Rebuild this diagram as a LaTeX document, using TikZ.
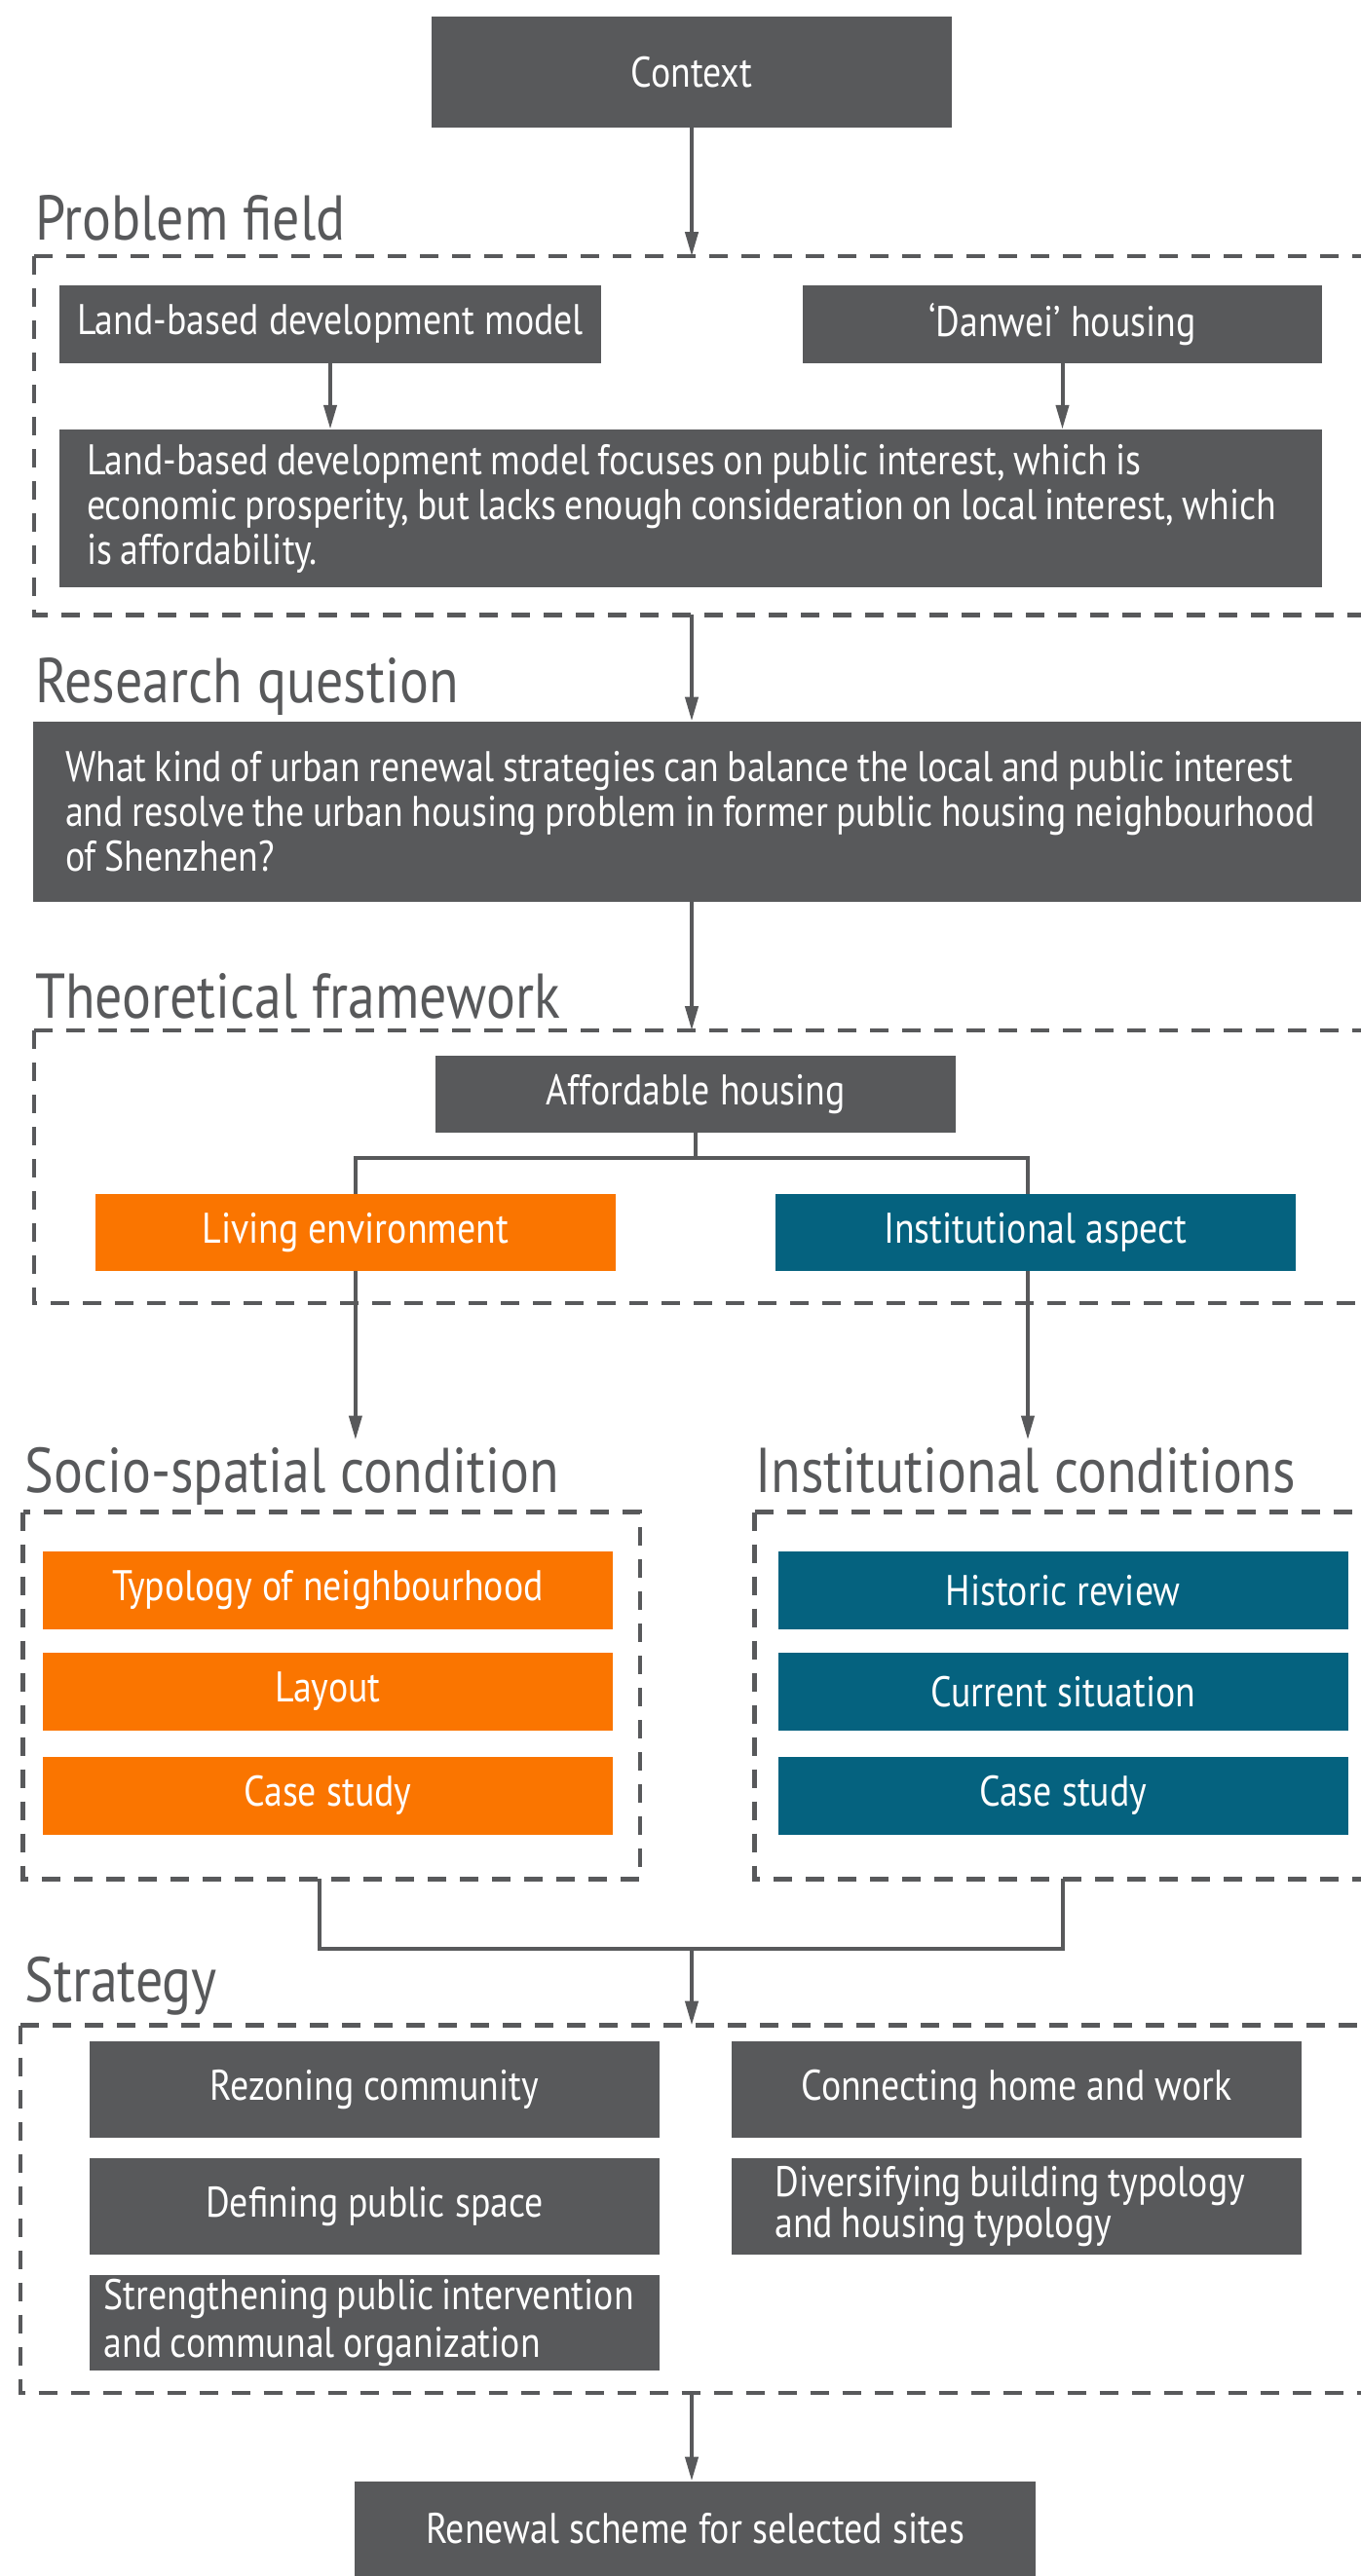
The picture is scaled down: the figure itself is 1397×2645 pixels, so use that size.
\documentclass[tikz,border=0pt]{standalone}
\usepackage{fontspec}
\setmainfont{PT Sans}[FakeStretch=0.86]
\usetikzlibrary{arrows.meta}
\definecolor{dg}{HTML}{58595B}
\definecolor{org}{HTML}{FA7500}
\definecolor{tl}{HTML}{05627F}
\DeclareRobustCommand\mlsp{\spaceskip 4.2pt\relax}
\begin{document}
\begin{tikzpicture}[x=0.5pt,y=-0.5pt,
  wh/.style 2 args={minimum width=#1*0.5pt, minimum height=#2*0.5pt},
  box/.style={fill=dg, text=white, inner sep=0pt, font=\fontsize{22}{23}\selectfont},
  obox/.style={box, fill=org},
  tbox/.style={box, fill=tl},
  ttl/.style={text=dg, anchor=base west, inner sep=0pt, font=\fontsize{32.5}{38}\selectfont},
  dbox/.style={draw=none, inner sep=0pt},
  dline/.style={draw=dg, line width=2.2pt, dash pattern=on 9.5pt off 7pt},
  conn/.style={draw=dg, line width=2pt},
  arr/.style={conn, -{Triangle[length=12.5pt,width=6.5pt]}},
]
\fill[white] (0,0) rectangle (1397,2645);
\useasboundingbox (0,0) rectangle (1397,2645);

% Context
\node[box, wh={534}{114}] (ctx) at (710,74) {Context};

% Problem field
\node[ttl] (tpf) at (35.6,246.7) {Problem field};
\node[dbox, wh={1361.4}{367.4}] (pf) at (716.3,447.3) {};
\draw[dline] (pf.north west) -- (pf.north east);
\draw[dline] (pf.north west) -- (pf.south west) -- (pf.south east);
\node[box, wh={556.8}{79.7}] (land) at (339,332.9) {Land-based development model};
\node[box, wh={533}{79.7}] (danw) at (1090.5,332.9) {‘Danwei’ housing};
\node[box, wh={1296.4}{161.6}, text width=619.8pt, inner xsep=14.2pt] (big) at (708.8,522)
  {\mlsp\mbox{Land-based development model focuses on public interest, which is}\\
   \mbox{economic prosperity, but lacks enough consideration on local interest, which}\\
   \mbox{is affordability.}};
\draw[arr] (ctx.south) -- (ctx.south |- pf.north);
\draw[arr] (land.south) -- (land.south |- big.north);
\draw[arr] (danw.south) -- (danw.south |- big.north);

% Research question
\node[ttl] (trq) at (35.6,721) {Research question};
\node[box, wh={1363}{185}, text width=648.5pt, inner xsep=16.5pt] (rq) at (715.5,833.5)
  {\mlsp\mbox{What kind of urban renewal strategies can balance the local and public interest}\\
   \mbox{and resolve the urban housing problem in former public housing neighbourhood}\\
   \mbox{of Shenzhen?}};
\draw[arr] (ctx.south |- pf.south) -- (ctx.south |- rq.north);

% Theoretical framework
\node[ttl] (tth) at (35.6,1045) {Theoretical framework};
\node[dbox, wh={1361.4}{279}] (th) at (716.3,1198) {};
\draw[dline] (th.north west) -- (th.north east);
\draw[dline] (th.north west) -- (th.south west) -- (th.south east);
\draw[arr] (ctx.south |- rq.south) -- (ctx.south |- th.north);
\node[box, wh={534}{79}] (aff) at (714,1123.5) {Affordable housing};
\node[obox, wh={533.7}{79}] (liv) at (364.9,1265.5) {Living environment};
\node[tbox, wh={534.4}{79}] (inst) at (1062.8,1265.5) {Institutional aspect};
\coordinate (jy) at (0,1189);
\coordinate (instx) at (1055,0);
\coordinate (tipL) at (364.9,1478.5);
\coordinate (tipR) at (1055,1478.5);
\draw[conn] (aff.south) -- (aff.south |- jy);
\draw[conn] (liv.north) -- (liv.north |- jy) -- (instx |- jy) -- (instx |- inst.north);
\draw[arr] (liv.south) -- (tipL);
\draw[arr] (instx |- inst.south) -- (tipR);

% Socio-spatial / Institutional conditions
\node[ttl] (tsl) at (25,1532) {Socio-spatial condition};
\node[ttl] (tsr) at (775,1532) {Institutional conditions};
\node[dbox, wh={632.6}{376}] (sl) at (340.3,1741) {};
\draw[dline] (sl.north west) rectangle (sl.south east);
\node[dbox, wh={622}{376}] (sr) at (1086,1741) {};
\draw[dline] (sr.north west) -- (sr.north east);
\draw[dline] (sr.north west) -- (sr.south west) -- (sr.south east);
\node[obox, wh={585.3}{79.6}] (o1) at (336.4,1632.8) {Typology of neighbourhood};
\node[obox, wh={585.3}{79.6}] (o2) at (336.4,1736.8) {Layout};
\node[obox, wh={585.3}{79.6}] (o3) at (336.4,1843.8) {Case study};
\node[tbox, wh={584.6}{79.6}] (t1) at (1091.3,1632.8) {Historic review};
\node[tbox, wh={584.6}{79.6}] (t2) at (1091.3,1736.8) {Current situation};
\node[tbox, wh={584.6}{79.6}] (t3) at (1091.3,1843.8) {Case study};
\coordinate (jb) at (0,2001);
\coordinate (slx) at (328,0);
\coordinate (srx) at (1090.5,0);
\draw[conn] (slx |- sl.south) -- (slx |- jb) -- (srx |- jb) -- (srx |- sr.south);

% Strategy
\node[ttl] (tst) at (25,2055.5) {Strategy};
\node[dbox, wh={1375.6}{376.6}] (st) at (709.2,2268.3) {};
\draw[dline] (st.north west) -- (st.north east);
\draw[dline] (st.north west) -- (st.south west) -- (st.south east);
\draw[arr] (ctx.south |- jb) -- (ctx.south |- st.north);
\node[box, wh={585.2}{98.8}] (s1) at (384.4,2145.2) {Rezoning community};
\node[box, wh={585.2}{98.8}] (s2) at (384.4,2265.4) {Defining public space};
\node[box, wh={585.2}{98.8}, text width=277.6pt, inner xsep=7.6pt,
      font=\fontsize{22}{24.5}\selectfont] (s3) at (384.4,2385)
  {\mlsp\mbox{Strengthening public intervention}\\\mbox{and communal organization}};
\node[box, wh={585}{98.8}] (s4) at (1043.5,2145.2) {Connecting home and work};
\node[box, wh={585}{98.8}, text width=248pt, inner xsep=22.3pt,
      font=\fontsize{22}{19.5}\selectfont] (s5) at (1043.5,2265.4)
  {\mlsp\mbox{Diversifying building typology}\\\mbox{and housing typology}};

% Renewal
\node[box, wh={699}{97}] (ren) at (713.5,2596.5) {Renewal scheme for selected sites};
\draw[arr] (ctx.south |- st.south) -- (ctx.south |- ren.north);
\end{tikzpicture}
\end{document}
